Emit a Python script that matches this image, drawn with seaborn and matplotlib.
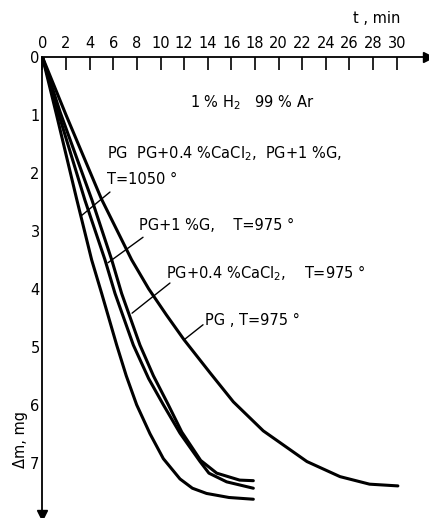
import matplotlib
matplotlib.use("Agg")
import matplotlib.pyplot as plt
import numpy as np
import pandas as pd
import seaborn as sns

# ---- data ----
t_pg_1050 = [0, 1.2, 2.9, 4.17, 5.02, 6.29, 7.1, 7.98, 9.11, 10.24, 11.65, 12.7, 13.9, 15.8, 17.86]
dm_pg_1050 = [0, 1.0, 2.45, 3.5, 4.08, 4.97, 5.5, 6.0, 6.5, 6.93, 7.28, 7.44, 7.53, 7.6, 7.63]

t_pg_g_975 = [0, 1.4, 3.6, 5.3, 6.15, 7.7, 9.0, 10.24, 11.65, 13.35, 14.1, 15.6, 17.86]
dm_pg_g_975 = [0, 1.0, 2.47, 3.5, 4.08, 4.97, 5.55, 6.0, 6.49, 6.98, 7.18, 7.33, 7.44]

t_pg_cacl_975 = [0, 1.5, 4.2, 5.87, 6.71, 8.26, 9.4, 10.66, 11.8, 13.4, 14.76, 16.7, 17.86]
dm_pg_cacl_975 = [0, 0.95, 2.47, 3.5, 4.08, 4.97, 5.5, 6.0, 6.47, 6.96, 7.18, 7.30, 7.31]

t_pg_975 = [0, 2.0, 5.0, 7.56, 9.0, 10.5, 12.0, 14.2, 16.17, 18.7, 22.4, 25.2, 27.7, 30.1]
dm_pg_975 = [0, 1.0, 2.45, 3.5, 4.0, 4.45, 4.88, 5.45, 5.95, 6.45, 6.98, 7.24, 7.37, 7.40]

curve_names = ["PG 1050", "PG+1%G 975", "PG+0.4%CaCl2 975", "PG 975"]
x_ticks = list(range(0, 31, 2))
y_ticks = [0, 1, 2, 3, 4, 5, 6, 7]

df = pd.concat([
    pd.DataFrame({"t": t_pg_1050, "dm": dm_pg_1050, "curve": curve_names[0]}),
    pd.DataFrame({"t": t_pg_g_975, "dm": dm_pg_g_975, "curve": curve_names[1]}),
    pd.DataFrame({"t": t_pg_cacl_975, "dm": dm_pg_cacl_975, "curve": curve_names[2]}),
    pd.DataFrame({"t": t_pg_975, "dm": dm_pg_975, "curve": curve_names[3]}),
], ignore_index=True)

sns.set_style("white")
plt.rcParams["font.family"] = ["DejaVu Sans"]
plt.rcParams["mathtext.default"] = "regular"
plt.rcParams["text.color"] = "black"
plt.rcParams["axes.labelcolor"] = "black"
plt.rcParams["xtick.color"] = "black"
plt.rcParams["ytick.color"] = "black"

W, H = 429, 518
fig = plt.figure(figsize=(W / 100, H / 100), dpi=100)
x0, y0 = 42.4, 57.0          # origin in pixels
xr, yb = 428.0, 515.0        # arrow tips in pixels
px_per_min, px_per_mg = 11.81, 57.96
ax = fig.add_axes([x0 / W, 1 - yb / H, (xr - x0) / W, (yb - y0) / H])

sns.lineplot(data=df, x="t", y="dm", hue="curve", palette=["black"] * 4,
             sort=False, estimator=None, legend=False, linewidth=2.2, ax=ax)
for ln in ax.get_lines():
    ln.set_solid_joinstyle("round")
    ln.set_solid_capstyle("round")

ax.set_xlim(0, (xr - x0) / px_per_min)
ax.set_ylim((yb - y0) / px_per_mg, 0)
ax.xaxis.tick_top()
ax.set_xticks(x_ticks)
ax.set_yticks(y_ticks)
ax.set_xlabel("")
ax.set_ylabel("")
ax.tick_params(axis="x", direction="in", length=9, width=1.2, pad=4,
               labelsize=10.5, colors="black")
ax.tick_params(axis="y", direction="in", length=13, width=1.2, pad=2,
               labelsize=10.5, colors="black")
for s in ["right", "bottom"]:
    ax.spines[s].set_visible(False)
for s in ["top", "left"]:
    ax.spines[s].set_color("black")
    ax.spines[s].set_linewidth(1.3)

# arrow heads
ax.plot(1, 1, marker=">", color="black", markersize=7, transform=ax.transAxes, clip_on=False)
ax.plot(0, 0, marker="v", color="black", markersize=7, transform=ax.transAxes, clip_on=False)

fs = 10.5
ax.text(26.3, -0.67, "t , min", fontsize=fs, va="center", ha="left", color="black")
ax.text(12.5, 0.79, "1 % H$_2$   99 % Ar", fontsize=fs, va="center", ha="left", color="black")
ax.text(5.47, 1.66, "PG  PG+0.4 %CaCl$_2$,  PG+1 %G,", fontsize=fs, va="center", ha="left", color="black")
ax.text(5.47, 2.12, "T=1050 °", fontsize=fs, va="center", ha="left", color="black")
ax.text(8.18, 2.9, "PG+1 %G,    T=975 °", fontsize=fs, va="center", ha="left", color="black")
ax.text(10.47, 3.73, "PG+0.4 %CaCl$_2$,    T=975 °", fontsize=fs, va="center", ha="left", color="black")
ax.text(13.77, 4.54, "PG , T=975 °", fontsize=fs, va="center", ha="left", color="black")

# leader lines
leaders = [((5.72, 2.33), (3.35, 2.73)),
           ((8.52, 3.11), (5.55, 3.55)),
           ((10.8, 3.90), (7.59, 4.42)),
           ((13.6, 4.62), (11.99, 4.88))]
for (xa, ya), (xb, yb_) in leaders:
    ax.plot([xa, xb], [ya, yb_], color="black", linewidth=1.0)

fig.text(20 / W, 1 - 440 / H, "Δm, mg", rotation=90, fontsize=fs, ha="center", va="center", color="black")

fig.savefig("out.png", dpi=100)
